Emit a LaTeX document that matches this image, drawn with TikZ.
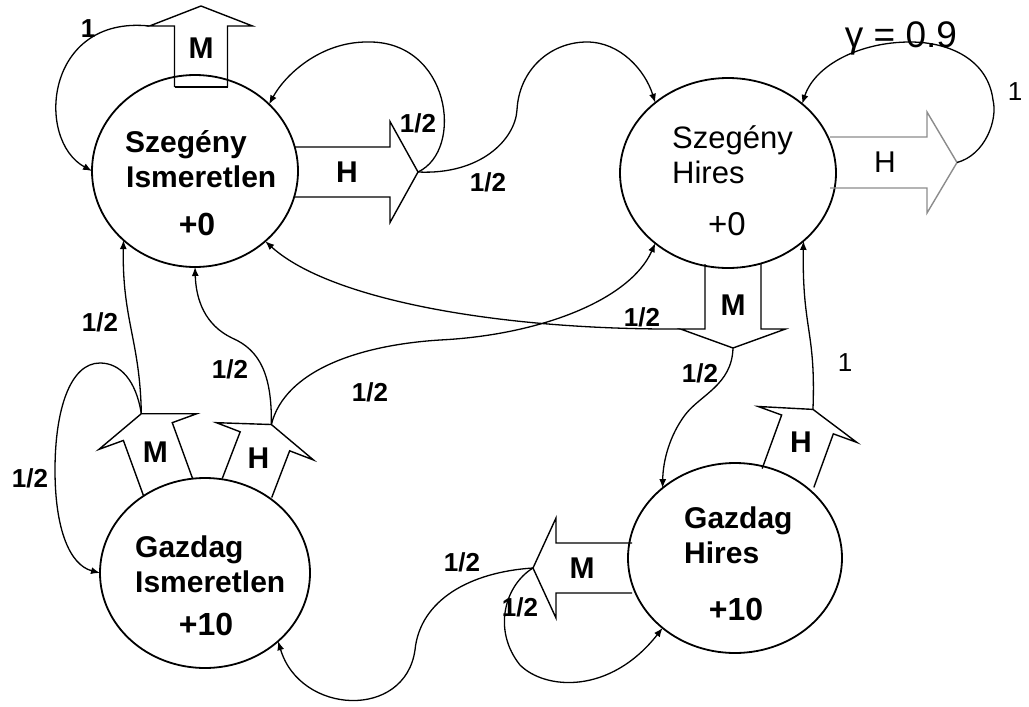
\documentclass[tikz,border=0pt]{standalone}
\usepackage{fontspec}
\setmainfont{Liberation Sans}
\usetikzlibrary{shapes.geometric,arrows.meta}

\tikzset{
  state/.style={ellipse, draw, line width=1.8pt, inner sep=0pt, outer sep=0pt},
  nameb/.style={anchor=base west, inner sep=0pt, font=\fontsize{30}{36}\selectfont\bfseries},
  namer/.style={anchor=base west, inner sep=0pt, font=\fontsize{31}{36}\selectfont},
  rewb/.style={anchor=base, inner sep=0pt, font=\fontsize{32}{38}\selectfont\bfseries},
  rewr/.style={anchor=base, inner sep=0pt, font=\fontsize{33}{38}\selectfont},
  prob/.style={inner sep=0pt, font=\fontsize{26}{30}\selectfont\bfseries},
  probr/.style={inner sep=0pt, font=\fontsize{26}{30}\selectfont},
  conn/.style={line width=1.3pt, -{Latex[length=9pt,width=7pt]}},
  arrowline/.style={line width=1.4pt, line join=miter},
  arrowlbl/.style={inner sep=0pt, font=\fontsize{30}{36}\selectfont\bfseries},
  % hollow action arrow: base centre at the origin, pointing along +x
  % #1 shaft length, #2 shaft half width, #3 head half width,
  % #4 head length, #5 label position, #6 label, #7 line options
  pics/barrow/.style n args={7}{code={
    \draw[arrowline,#7] (0,#2) -- (#1,#2) -- (#1,#3) -- (#1+#4,0)
      -- (#1,-#3) -- (#1,-#2) -- (0,-#2);
    \coordinate (-tip) at (#1+#4,0);
    \coordinate (-w1) at (#1,#3);
    \coordinate (-w2) at (#1,-#3);
    \coordinate (-b1) at (0,#2);
    \coordinate (-b2) at (0,-#2);
    \node[arrowlbl] (-lbl) at (#5,0) {#6};
  }}
}

\begin{document}
\begin{tikzpicture}[x=1pt,y=-1pt]
\fill[white] (0,0) rectangle (1029,707);
\path[use as bounding box] (0,0) rectangle (1029,707);

% states
\node[state, minimum width=206pt, minimum height=192pt] (SI) at (195,171) {};
\node[state, minimum width=216pt, minimum height=190pt] (SH) at (728,173) {};
\node[state, minimum width=210pt, minimum height=190pt] (GI) at (205,573) {};
\node[state, minimum width=214pt, minimum height=190pt] (GH) at (735,558) {};

\node[nameb] (SIa) at (125,152) {Szegény};
\node[nameb] (SIb) at (126,187) {Ismeretlen};
\node[rewb]  (SIc) at (197,235) {+0};

\node[namer] (SHa) at (672,148) {Szegény};
\node[namer] (SHb) at (672,183) {Hires};
\node[rewr]  (SHc) at (727,235) {+0};

\node[nameb] (GIa) at (135,557) {Gazdag};
\node[nameb] (GIb) at (135,592) {Ismeretlen};
\node[rewb]  (GIc) at (206,635) {+10};

\node[nameb] (GHa) at (684,528) {Gazdag};
\node[nameb] (GHb) at (684,563) {Hires};
\node[rewb]  (GHc) at (736,620) {+10};

% actions
\pic[rotate=90]  (SIm) at (201,87)    {barrow={61}{26.5}{51.5}{20}{39}{M}{}};
\draw[arrowline] (SIm-b1) -- (SIm-b2);
\pic             (SIh) at (295,172)   {barrow={95}{25}{50.5}{28}{52}{H}{}};
\pic             (SHh) at (830,162.5) {barrow={97}{25.5}{50.5}{30}{55}{\mdseries H}{draw=black!45}};
\pic[rotate=270] (SHm) at (733,264)   {barrow={65}{28}{52.5}{19}{41}{M}{}};
\pic[rotate=110] (GIm) at (168,487)   {barrow={59}{26}{52}{19}{37}{M}{}};
\pic[rotate=69]  (GIh) at (247,488)   {barrow={50}{26.5}{52}{18}{32}{H}{}};
\pic[rotate=70]  (GHh) at (788,478)   {barrow={57}{27.5}{52.5}{16}{38}{H}{}};
\pic[rotate=180] (GHm) at (632,568)   {barrow={76}{25}{50}{23}{50}{M}{}};

% transitions
\draw[conn] (SIm-w2) .. controls (45,15) and (35,140) .. (SI.180);
\draw[conn] (SIh-tip) .. controls (465,150) and (450,40) .. (367,42)
  .. controls (320,42) and (285,75) .. (SI.42);
\draw[conn] (SIh-tip) .. controls (480,175) and (515,140) .. (517,110)
  .. controls (519,70) and (550,42) .. (587,42)
  .. controls (620,42) and (645,70) .. (SH.136);
\draw[conn] (SHh-tip) .. controls (985,155) and (998,120) .. (993,100)
  .. controls (988,60) and (950,42) .. (910,42)
  .. controls (860,42) and (815,65) .. (SH.43);
\draw[conn] (GIm-tip) .. controls (140,340) and (122,320) .. (SI.224);
\draw[conn] (GIm-tip) .. controls (136,380) and (120,363) .. (100,363)
  .. controls (70,363) and (55,410) .. (55,470)
  .. controls (55,530) and (70,565) .. (GI.180);
\draw[conn] (GIh-tip) .. controls (272,375) and (260,350) .. (232,338)
  .. controls (205,325) and (196,300) .. (SI.270);
\draw[conn] (GIh-tip) .. controls (285,370) and (360,345) .. (440,340)
  .. controls (540,335) and (630,300) .. (SH.224);
\draw[conn] (SHm-w1) .. controls (500,330) and (330,300) .. (SI.315);
\draw[conn] (SHm-tip) .. controls (732,385) and (700,395) .. (685,415)
  .. controls (670,435) and (663,460) .. (GH.136);
\draw[conn] (GHh-tip) .. controls (816,330) and (802,330) .. (SH.318);
\draw[conn] (GHm-tip) .. controls (505,585) and (492,630) .. (520,665)
  .. controls (545,690) and (610,695) .. (GH.224);
\draw[conn] (GHm-tip) .. controls (470,572) and (420,600) .. (415,650)
  .. controls (405,720) and (300,715) .. (GI.317);

% probabilities
\node[prob]  (p1)  at (88,29)   {1};
\node[prob]  (p2)  at (418,123) {1/2};
\node[prob]  (p3)  at (488,182) {1/2};
\node[probr] (p4)  at (1015,92) {1};
\node[prob]  (p5)  at (642,317) {1/2};
\node[prob]  (p6)  at (700,373) {1/2};
\node[probr] (p7)  at (845,363) {1};
\node[prob]  (p8)  at (100,322) {1/2};
\node[prob]  (p9)  at (230,369) {1/2};
\node[prob]  (p10) at (370,392) {1/2};
\node[prob]  (p11) at (30,478)  {1/2};
\node[prob]  (p12) at (462,562) {1/2};
\node[prob]  (p13) at (520,607) {1/2};

% discount factor
\node[anchor=base, inner sep=0pt, font=\fontsize{37}{42}\selectfont] (gam) at (901,47) {γ = 0.9};
\end{tikzpicture}
\end{document}
